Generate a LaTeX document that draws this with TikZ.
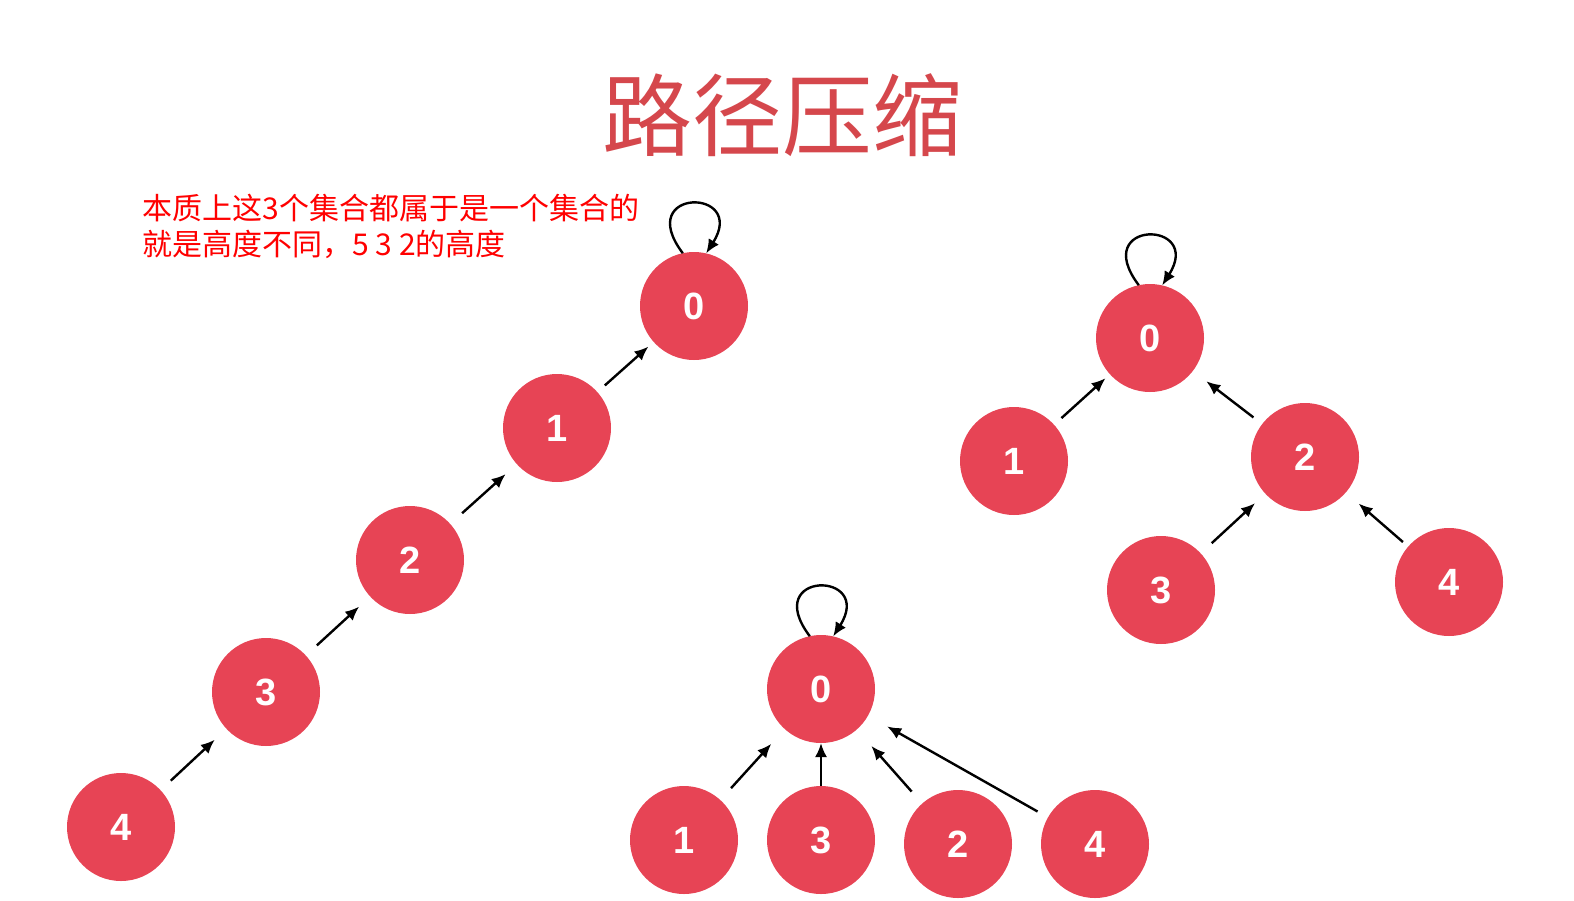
\documentclass[tikz,border=0pt]{standalone}
\usepackage{fontspec}
\newfontfamily\cjk{Noto Sans CJK SC}
\newfontfamily\numfont{Liberation Sans}
\usetikzlibrary{arrows.meta}
\definecolor{nodered}{RGB}{231,68,85}
\definecolor{titlered}{RGB}{213,71,76}
\definecolor{notered}{RGB}{255,0,0}
\tikzset{
  vert/.style={circle,fill=nodered,draw=none,minimum size=54pt,inner sep=0pt,outer sep=0pt,
    text=white,font=\numfont\bfseries\fontsize{19}{19}\selectfont},
  arr/.style={-{Latex[length=7pt,width=6pt]},line width=1.2pt,black},
  notetext/.style={anchor=west,inner sep=0pt,font=\cjk\fontsize{15}{18}\selectfont,text=notered},
  titletext/.style={inner sep=0pt,font=\cjk\fontsize{45}{45}\selectfont,text=titlered}
}
\begin{document}
\begin{tikzpicture}[x=0.5pt,y=-0.5pt]
\fill[white] (0,0) rectangle (1574,900);
\useasboundingbox (0,0) rectangle (1574,900);

% title and note
\node[titletext] (title) at (782,115) {路径压缩};
\node[notetext] (note1) at (142,208.5) {本质上这3个集合都属于是一个集合的};
\node[notetext] (note2) at (142,244.5) {就是高度不同，5 3 2的高度};

% chain
\node[vert] (a0) at (694,306) {0};
\node[vert] (a1) at (557,428) {1};
\node[vert] (a2) at (410,560) {2};
\node[vert] (a3) at (266,692) {3};
\node[vert] (a4) at (121,827) {4};
\draw[arr,shorten <=7pt,shorten >=8pt] (a4) -- (a3);
\draw[arr,shorten <=7.5pt,shorten >=7.5pt] (a3) -- (a2);
\draw[arr,shorten <=8pt,shorten >=7.5pt] (a2) -- (a1);
\draw[arr,shorten <=5pt,shorten >=3.5pt] (a1) -- (a0);
\draw[arr] (a0.102) .. controls +(-50,-66) and +(42,-66) .. (a0.77);

% top right tree
\node[vert] (b0) at (1150,338) {0};
\node[vert] (b1) at (1014,461) {1};
\node[vert] (b2) at (1305,457) {2};
\node[vert] (b3) at (1161,590) {3};
\node[vert] (b4) at (1449,582) {4};
\draw[arr,shorten <=5pt,shorten >=3pt] (b1) -- (b0);
\draw[arr,shorten <=5.5pt,shorten >=8.5pt] (b2) -- (b0);
\draw[arr,shorten <=7.5pt,shorten >=7pt] (b3) -- (b2);
\draw[arr,shorten <=3.5pt,shorten >=8.5pt] (b4) -- (b2);
\draw[arr] (b0.102) .. controls +(-50,-66) and +(42,-66) .. (b0.77);

% bottom tree
\node[vert] (c0) at (821,689) {0};
\node[vert] (c1) at (684,840) {1};
\node[vert] (c3) at (821,840) {3};
\node[vert] (c2) at (958,844) {2};
\node[vert] (c4) at (1095,844) {4};
\draw[arr,shorten <=8pt,shorten >=10pt] (c1) -- (c0);
\draw[arr] (c3) -- (c0);
\draw[arr,shorten <=8pt,shorten >=11pt] (c2) -- (c0);
\draw[arr,shorten <=6pt,shorten >=11pt] (c4) -- (c0);
\draw[arr] (c0.102) .. controls +(-50,-66) and +(42,-66) .. (c0.77);
\end{tikzpicture}
\end{document}
